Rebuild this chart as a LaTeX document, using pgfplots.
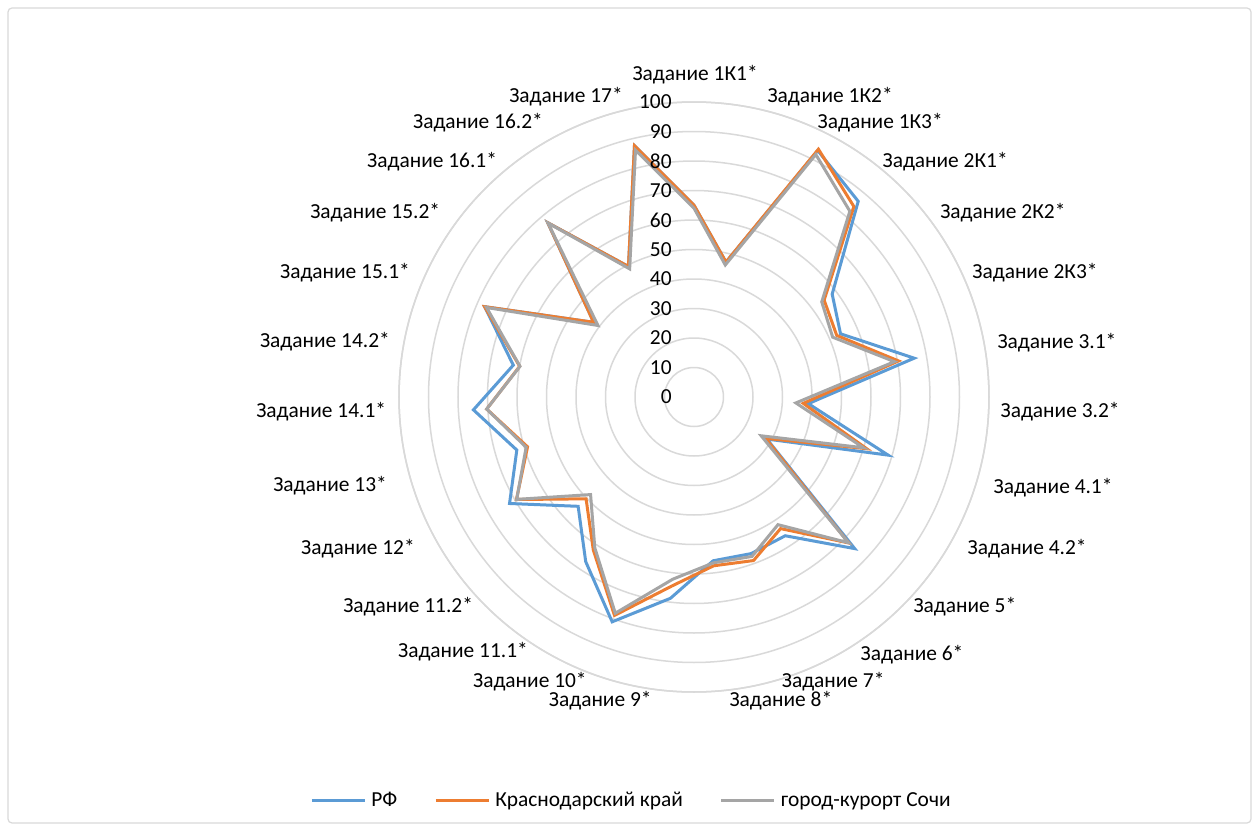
\documentclass[border=0pt]{standalone}
\usepackage{pgfplots}
\pgfplotsset{compat=1.18}
\usepackage{pgfplotstable}
\usepgfplotslibrary{polar}
\usepackage{fontspec}
\setmainfont{Carlito}
\definecolor{rfblue}{HTML}{5B9BD5}
\definecolor{kkorange}{HTML}{ED7D31}
\definecolor{sgray}{HTML}{A5A5A5}
\definecolor{gridgray}{HTML}{D9D9D9}

% angle (clockwise from top, 27 categories), RF, Krasnodar krai, Sochi
\pgfplotstableread{
ang rf kk so
90 65 65 64
76.667 47 47 46
63.333 93.5 94 92
50 86.6 84.3 82.2
36.667 58.4 55 54
23.333 54.1 52.7 51.2
10 75.8 70.4 69
356.667 38.8 37.1 34.6
343.333 68.7 61.1 60
330 28.5 28 26.3
316.667 74.9 72.1 72
303.333 56.3 53.4 51.8
290 56.5 59 57.5
276.667 55.9 57.6 56.6
263.333 68.7 64.5 62.2
250 81.1 78.8 78
236.667 66.8 62.1 61.2
223.333 54 50.3 48.2
210 72.2 69.5 69.4
196.667 62.7 58.9 59.4
183.333 74.9 70.4 70.4
170 62.2 60 59.9
156.667 77.3 77.3 76.6
143.333 42.4 42.4 40.6
130 77.1 77.1 77
116.667 49.5 49.5 48.6
103.333 87.5 87.5 86
90 65 65 64
}\datatable

\begin{document}
\fontsize{10.7}{13}\selectfont
\begin{tikzpicture}
\fill[white] (0pt,0pt) rectangle (629.5pt,415.5pt);
\draw[gridgray, line width=0.6pt, rounded corners=2pt] (4pt,4pt) rectangle (625.5pt,411.5pt);
\begin{polaraxis}[
  at={(347pt,217pt)}, anchor=center,
  width=295pt, height=295pt, scale only axis,
  xmin=0, xmax=360, ymin=0, ymax=100,
  xtick=\empty,
  ytick={10,20,...,100}, yticklabels={},
  major tick length=0pt,
  ymajorgrids=true, xmajorgrids=false,
  major grid style={gridgray, line width=0.75pt},
  x axis line style={gridgray, line width=0.75pt},
  y axis line style={draw=none},
  clip=false,
  legend columns=3,
  legend style={at={(0.3966,-0.1847)}, anchor=center, draw=none, fill=none,
    font=\fontsize{10.7}{13}\selectfont,
    nodes={inner sep=2.5pt},
    /tikz/every odd column/.append style={column sep=0pt},
    /tikz/every even column/.append style={column sep=16pt}},
  legend image code/.code={\draw[#1] (0pt,0pt) -- (26.5pt,0pt);},
]
\addplot[rfblue, line width=1.5pt, line join=miter] table[x=ang, y=rf] {\datatable};
\addlegendentry{РФ}
\addplot[kkorange, line width=1.5pt, line join=miter] table[x=ang, y=kk] {\datatable};
\addlegendentry{Краснодарский край}
\addplot[sgray, line width=1.5pt, line join=miter] table[x=ang, y=so] {\datatable};
\addlegendentry{город-курорт Сочи}

\pgfplotsinvokeforeach{0,10,...,100}{
  \node[anchor=east, inner sep=0pt, xshift=-11pt] at (axis cs:90,#1) {#1};
}

\node at (axis cs:89.8,109.2) {Задание 1К1*};
\node at (axis cs:65.6,111.7) {Задание 1К2*};
\node at (axis cs:55.8,112.3) {Задание 1К3*};
\node at (axis cs:43.1,116.6) {Задание 2К1*};
\node at (axis cs:30.8,121.9) {Задание 2К2*};
\node at (axis cs:20.0,123) {Задание 2К3*};
\node at (axis cs:8.5,124.4) {Задание 3.1*};
\node at (axis cs:357.65,124.2) {Задание 3.2*};
\node at (axis cs:345.9,125.5) {Задание 4.1*};
\node at (axis cs:335.5,124.1) {Задание 4.2*};
\node at (axis cs:322.2,116.2) {Задание 5*};
\node at (axis cs:310.2,114.5) {Задание 6*};
\node[yshift=1.5pt] at (axis cs:295.8,108.4) {Задание 7*};
\node[yshift=-1.5pt] at (axis cs:286.1,106.2) {Задание 8*};
\node[yshift=-1.5pt] at (axis cs:252.7,106.9) {Задание 9*};
\node[yshift=1.5pt] at (axis cs:240.3,112.3) {Задание 10*};
\node at (axis cs:227.8,116.6) {Задание 11.1*};
\node at (axis cs:216.2,120.1) {Задание 11.2*};
\node at (axis cs:204.3,125) {Задание 12*};
\node at (axis cs:193.7,127) {Задание 13*};
\node at (axis cs:182.3,126.5) {Задание 14.1*};
\node at (axis cs:171.5,126.5) {Задание 14.2*};
\node at (axis cs:160.4,125.6) {Задание 15.1*};
\node at (axis cs:150.0,124.8) {Задание 15.2*};
\node at (axis cs:138.1,119.3) {Задание 16.1*};
\node at (axis cs:128.25,118.3) {Задание 16.2*};
\node at (axis cs:113.1,110.6) {Задание 17*};
\end{polaraxis}
\end{tikzpicture}
\end{document}
